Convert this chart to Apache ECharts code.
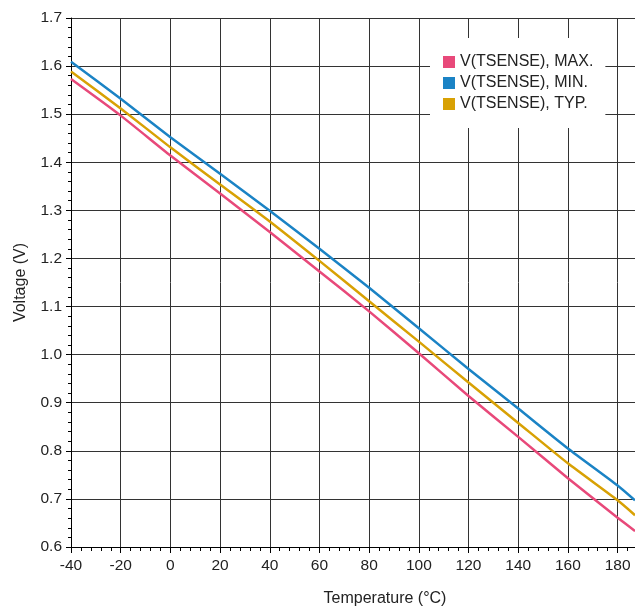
<!DOCTYPE html>
<html>
<head>
<meta charset="utf-8">
<script src="https://cdn.jsdelivr.net/npm/echarts@6/dist/echarts.min.js"></script>
<style>
html,body{margin:0;padding:0;background:#fff;}
#c{width:635px;height:608px;}
</style>
</head>
<body>
<div id="c"></div>
<script>
const temps = [-40, -20, 0, 20, 40, 60, 80, 100, 120, 140, 160, 180, 187];
const vMax = [1.573, 1.497, 1.414, 1.335, 1.255, 1.173, 1.090, 1.003, 0.914, 0.829, 0.743, 0.661, 0.633];
const vMin = [1.609, 1.532, 1.452, 1.376, 1.299, 1.220, 1.139, 1.055, 0.970, 0.888, 0.805, 0.728, 0.697];
const vTyp = [1.589, 1.512, 1.431, 1.354, 1.277, 1.195, 1.111, 1.027, 0.942, 0.858, 0.774, 0.697, 0.666];
const seriesNames = ['V(TSENSE), MAX.', 'V(TSENSE), MIN.', 'V(TSENSE), TYP.'];
const seriesColors = ['#e8497a', '#1b83c5', '#d8a104'];

const pairs = arr => temps.map((t, i) => [t, arr[i]]);
const font = 'Liberation Sans, Arial, sans-serif';
const chart = echarts.init(document.getElementById('c'));
chart.setOption({
  animation: false,
  textStyle: {fontFamily: font},
  grid: {left: 71, right: 0, top: 18, bottom: 61, outerBoundsMode: 'none', containLabel: false},
  legend: {
    orient: 'vertical',
    left: 430, top: 38,
    padding: [16, 12, 16, 13],
    backgroundColor: '#fff',
    itemWidth: 12, itemHeight: 12, itemGap: 5,
    icon: 'rect',
    textStyle: {fontSize: 16, color: '#222', fontFamily: font},
    data: seriesNames
  },
  xAxis: {
    type: 'value', min: -40, max: 187, interval: 20,
    name: 'Temperature (°C)', nameLocation: 'middle', nameGap: 44,
    nameTextStyle: {fontSize: 16, color: '#222', padding: [0, 0, 0, 64]},
    axisLine: {onZero: false, lineStyle: {color: '#000', width: 1}},
    axisTick: {show: true, inside: false, length: 6, lineStyle: {color: '#000'}},
    minorTick: {show: true, splitNumber: 5, length: 4, lineStyle: {color: '#000'}},
    axisLabel: {fontSize: 15.5, color: '#222', margin: 11, showMaxLabel: false},
    splitLine: {show: true, showMaxLine: false, lineStyle: {color: '#333', width: 1}}
  },
  yAxis: {
    type: 'value', min: 0.6, max: 1.7, interval: 0.1,
    name: 'Voltage (V)', nameLocation: 'middle', nameGap: 42,
    nameTextStyle: {fontSize: 16, color: '#222'},
    axisLine: {show: true, onZero: false, lineStyle: {color: '#000', width: 1}},
    axisTick: {show: true, inside: false, length: 5, lineStyle: {color: '#000'}},
    minorTick: {show: true, splitNumber: 5, length: 3, lineStyle: {color: '#000'}},
    axisLabel: {fontSize: 15.5, color: '#222', margin: 9, formatter: v => v.toFixed(1)},
    splitLine: {show: true, lineStyle: {color: '#333', width: 1}}
  },
  series: [
    {name: seriesNames[0], type: 'line', data: pairs(vMax), color: seriesColors[0], showSymbol: false, smooth: 0.2, lineStyle: {width: 2.5}},
    {name: seriesNames[1], type: 'line', data: pairs(vMin), color: seriesColors[1], showSymbol: false, smooth: 0.2, lineStyle: {width: 2.5}},
    {name: seriesNames[2], type: 'line', data: pairs(vTyp), color: seriesColors[2], showSymbol: false, smooth: 0.2, lineStyle: {width: 2.5}}
  ]
});
</script>
</body>
</html>
